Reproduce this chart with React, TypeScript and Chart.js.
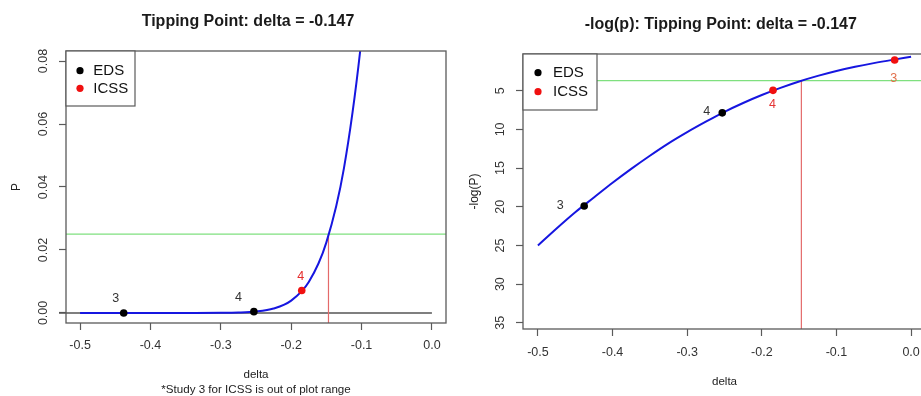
import React, { useEffect, useRef } from 'react';
import { Chart, registerables } from 'chart.js';

Chart.register(...registerables);

const FONT = '"Liberation Sans", Arial, Helvetica, sans-serif';
Chart.defaults.font.family = FONT;

// ---------- data ----------
const xTicks = [-0.5, -0.4, -0.3, -0.2, -0.1, 0.0];
const pTicks = [0, 0.02, 0.04, 0.06, 0.08];
const logTicks = [5, 10, 15, 20, 25, 30, 35];

// left panel: P against delta
const curvePDelta = [-0.5, -0.45, -0.4, -0.35, -0.3, -0.275, -0.25, -0.225, -0.2, -0.175, -0.15, -0.125, -0.1, -0.075];
const curvePValue = [0, 0, 0, 0.000002, 0.00003, 0.00012, 0.00044, 0.0014, 0.0039, 0.0098, 0.0224, 0.046, 0.0872, 0.1496];

// right panel: -log(P) against delta
const curveLogDelta = [-0.5, -0.475, -0.45, -0.425, -0.4, -0.375, -0.35, -0.325, -0.3, -0.275, -0.25, -0.225, -0.2, -0.175, -0.15, -0.125, -0.1, -0.075, -0.05, -0.025, 0];
const curveNegLogP = [25.0, 22.8, 20.7, 18.8, 16.9, 15.1, 13.4, 11.8, 10.35, 9.0, 7.72, 6.58, 5.55, 4.63, 3.8, 3.08, 2.44, 1.9, 1.43, 1.01, 0.62];

// study points
const edsDelta = [-0.438, -0.253];
const edsP = [0.0, 0.0004];
const edsNegLogP = [19.9, 7.86];
const edsStudy = ['3', '4'];

const icssDeltaLeft = [-0.185]; // study 3 is out of plot range on the P scale
const icssPLeft = [0.0071];
const icssStudyLeft = ['4'];
const icssDelta = [-0.185, -0.022];
const icssNegLogP = [4.95, 1.03];
const icssStudy = ['4', '3'];

const tipDelta = -0.147;
const alphaP = 0.025;
const alphaNegLog = 3.689;
const zeroLineDelta = [-0.53, 0];

// axis ranges
const xMin = -0.52, xMax = 0.02;
const pMin = -0.0032, pMax = 0.0832;
const logMin = 0.25, logMax = 35.8;

// ---------- styling ----------
const BLUE = '#1616e0';
const GREEN = '#7fe07f';
const REDLINE = '#e46a6a';
const RED = '#f01010';
const BOX = '#5a5a5a';

type Lbl = { x: number; y: number; text: string; color: string; dx: number; dy: number };

function decorPlugin(cfg: {
  title: string; titleX: number; titleY: number;
  labels: Lbl[];
  legend: { w: number; h: number; dotX: number; dotY: number[]; textX: number };
}) {
  return {
    id: 'decor',
    afterDraw(chart: any) {
      const { ctx, chartArea: a, scales } = chart;
      const xs = scales.x, ys = scales.y;
      ctx.save();
      // plot box
      ctx.strokeStyle = BOX;
      ctx.lineWidth = 1.3;
      ctx.strokeRect(a.left, a.top, a.right - a.left, a.bottom - a.top);
      // title
      ctx.fillStyle = '#1a1a1a';
      ctx.font = `bold 16px ${FONT}`;
      ctx.textAlign = 'center';
      ctx.textBaseline = 'middle';
      ctx.fillText(cfg.title, cfg.titleX, cfg.titleY);
      // study labels
      ctx.font = `12.5px ${FONT}`;
      cfg.labels.forEach((l) => {
        ctx.fillStyle = l.color;
        ctx.fillText(l.text, xs.getPixelForValue(l.x) + l.dx, ys.getPixelForValue(l.y) + l.dy);
      });
      // legend
      const lg = cfg.legend;
      ctx.fillStyle = '#ffffff';
      ctx.fillRect(a.left, a.top, lg.w, lg.h);
      ctx.strokeStyle = BOX;
      ctx.lineWidth = 1.2;
      ctx.strokeRect(a.left, a.top, lg.w, lg.h);
      const names = ['EDS', 'ICSS'];
      const cols = ['#000000', RED];
      ctx.font = `15px ${FONT}`;
      ctx.textAlign = 'left';
      names.forEach((n, i) => {
        ctx.fillStyle = cols[i];
        ctx.beginPath();
        ctx.arc(a.left + lg.dotX, a.top + lg.dotY[i], 3.6, 0, Math.PI * 2);
        ctx.fill();
        ctx.fillStyle = '#111111';
        ctx.fillText(n, a.left + lg.textX, a.top + lg.dotY[i] + 0.5);
      });
      ctx.restore();
    },
  };
}

function lineDs(xs: number[], ys: number[], color: string, width: number, extra: any = {}) {
  return {
    data: xs.map((x, i) => ({ x, y: ys[i] })),
    borderColor: color,
    backgroundColor: color,
    borderWidth: width,
    pointRadius: 0,
    showLine: true,
    fill: false,
    ...extra,
  };
}

function pointDs(xs: number[], ys: number[], color: string) {
  return {
    data: xs.map((x, i) => ({ x, y: ys[i] })),
    borderColor: color,
    backgroundColor: color,
    pointRadius: 3.8,
    pointBorderWidth: 0,
    showLine: false,
  };
}

function xScale(o: { height: number; pad: number; title: string | string[]; titlePadB: number }) {
  return {
    type: 'linear',
    min: xMin,
    max: xMax,
    afterBuildTicks: (s: any) => { s.ticks = xTicks.map((v) => ({ value: v })); },
    afterFit: (s: any) => { s.height = o.height; },
    ticks: {
      callback: (v: any) => Number(v).toFixed(1),
      font: { size: 12.5 },
      color: '#333333',
      padding: o.pad,
      autoSkip: false,
      maxRotation: 0,
      minRotation: 0,
    },
    grid: { drawOnChartArea: false, drawTicks: true, tickLength: 7, color: BOX, tickWidth: 1.2 },
    border: { display: false },
    title: {
      display: true,
      text: o.title,
      font: { size: 11.6, lineHeight: 1.3 },
      color: '#222222',
      padding: { top: 0, bottom: o.titlePadB },
    },
  };
}

function yScale(o: { width: number; min: number; max: number; reverse: boolean; ticks: number[]; fmt: (v: number) => string; pad: number; title: string; titlePad: number }) {
  return {
    type: 'linear',
    min: o.min,
    max: o.max,
    reverse: o.reverse,
    afterBuildTicks: (s: any) => { s.ticks = o.ticks.map((v) => ({ value: v })); },
    afterFit: (s: any) => { s.width = o.width; },
    ticks: {
      callback: (v: any) => o.fmt(Number(v)),
      font: { size: 12.5 },
      color: '#333333',
      padding: o.pad,
      autoSkip: false,
      minRotation: 90,
      maxRotation: 90,
      crossAlign: 'center',
    },
    grid: { drawOnChartArea: false, drawTicks: true, tickLength: 7, color: BOX, tickWidth: 1.2 },
    border: { display: false },
    title: {
      display: true,
      text: o.title,
      font: { size: 12 },
      color: '#222222',
      padding: { top: o.titlePad, bottom: 0 },
    },
  };
}

export default function App() {
  const leftRef = useRef<HTMLCanvasElement | null>(null);
  const rightRef = useRef<HTMLCanvasElement | null>(null);

  useEffect(() => {
    const common = {
      animation: false,
      responsive: false,
      events: [],
      plugins: { legend: { display: false }, tooltip: { enabled: false }, title: { display: false } },
      elements: { line: { cubicInterpolationMode: 'monotone' } },
    };

    const left = new Chart(leftRef.current as HTMLCanvasElement, {
      type: 'line',
      data: {
        datasets: [
          pointDs(edsDelta, edsP, '#000000'),
          pointDs(icssDeltaLeft, icssPLeft, RED),
          lineDs(curvePDelta, curvePValue, BLUE, 2),
          lineDs([tipDelta, tipDelta], [pMin, alphaP], REDLINE, 1.2),
          lineDs([xMin, xMax], [alphaP, alphaP], GREEN, 1.3, { clip: 0 }),
          lineDs(zeroLineDelta, [0, 0], '#555555', 1.4, { clip: false }),
        ] as any,
      },
      options: {
        ...common,
        layout: { padding: { top: 51, right: 14, left: 0, bottom: 0 } },
        scales: {
          x: xScale({ height: 73, pad: 8.5, title: ['delta', '*Study 3 for ICSS is out of plot range'], titlePadB: -1.5 }),
          y: yScale({ width: 66, min: pMin, max: pMax, reverse: false, ticks: pTicks, fmt: (v) => v.toFixed(2), pad: 3.5, title: 'P', titlePad: 9.8 }),
        },
      } as any,
      plugins: [
        decorPlugin({
          title: 'Tipping Point: delta = -0.147',
          titleX: 248,
          titleY: 22,
          labels: [
            { x: edsDelta[0], y: edsP[0], text: edsStudy[0], color: '#333333', dx: -8, dy: -14.5 },
            { x: edsDelta[1], y: edsP[1], text: edsStudy[1], color: '#333333', dx: -15.5, dy: -14.5 },
            { x: icssDeltaLeft[0], y: icssPLeft[0], text: icssStudyLeft[0], color: '#e52b2b', dx: -1, dy: -14 },
          ],
          legend: { w: 69, h: 55, dotX: 14, dotY: [19.7, 37.3], textX: 27.3 },
        }),
      ] as any,
    });

    const right = new Chart(rightRef.current as HTMLCanvasElement, {
      type: 'line',
      data: {
        datasets: [
          pointDs(edsDelta, edsNegLogP, '#000000'),
          pointDs(icssDelta, icssNegLogP, RED),
          lineDs(curveLogDelta, curveNegLogP, BLUE, 2),
          lineDs([tipDelta, tipDelta], [logMax, alphaNegLog], REDLINE, 1.2),
          lineDs([xMin, xMax], [alphaNegLog, alphaNegLog], GREEN, 1.3, { clip: 0 }),
        ] as any,
      },
      options: {
        ...common,
        layout: { padding: { top: 54, right: 14, left: 0, bottom: 0 } },
        scales: {
          x: xScale({ height: 67, pad: 9.2, title: 'delta', titlePadB: 6.8 }),
          y: yScale({ width: 63, min: logMin, max: logMax, reverse: true, ticks: logTicks, fmt: (v) => String(v), pad: 9, title: '-log(P)', titlePad: 7.8 }),
        },
      } as any,
      plugins: [
        decorPlugin({
          title: '-log(p): Tipping Point: delta = -0.147',
          titleX: 260.8,
          titleY: 25,
          labels: [
            { x: edsDelta[0], y: edsNegLogP[0], text: edsStudy[0], color: '#333333', dx: -24, dy: 0 },
            { x: edsDelta[1], y: edsNegLogP[1], text: edsStudy[1], color: '#333333', dx: -15.5, dy: -1 },
            { x: icssDelta[0], y: icssNegLogP[0], text: icssStudy[0], color: '#e53535', dx: -0.6, dy: 14.3 },
            { x: icssDelta[1], y: icssNegLogP[1], text: icssStudy[1], color: '#e2704c', dx: -1, dy: 18.3 },
          ],
          legend: { w: 74, h: 56, dotX: 15, dotY: [18.7, 37.7], textX: 30 },
        }),
      ] as any,
    });

    return () => {
      left.destroy();
      right.destroy();
    };
  }, []);

  return (
    <div style={{ position: 'absolute', left: 0, top: 0, width: 921, height: 396, overflow: 'hidden', background: '#ffffff' }}>
      <canvas ref={leftRef} width={460} height={396} style={{ position: 'absolute', left: 0, top: 0, display: 'block' }} />
      <canvas ref={rightRef} width={480} height={396} style={{ position: 'absolute', left: 460, top: 0, display: 'block' }} />
    </div>
  );
}
